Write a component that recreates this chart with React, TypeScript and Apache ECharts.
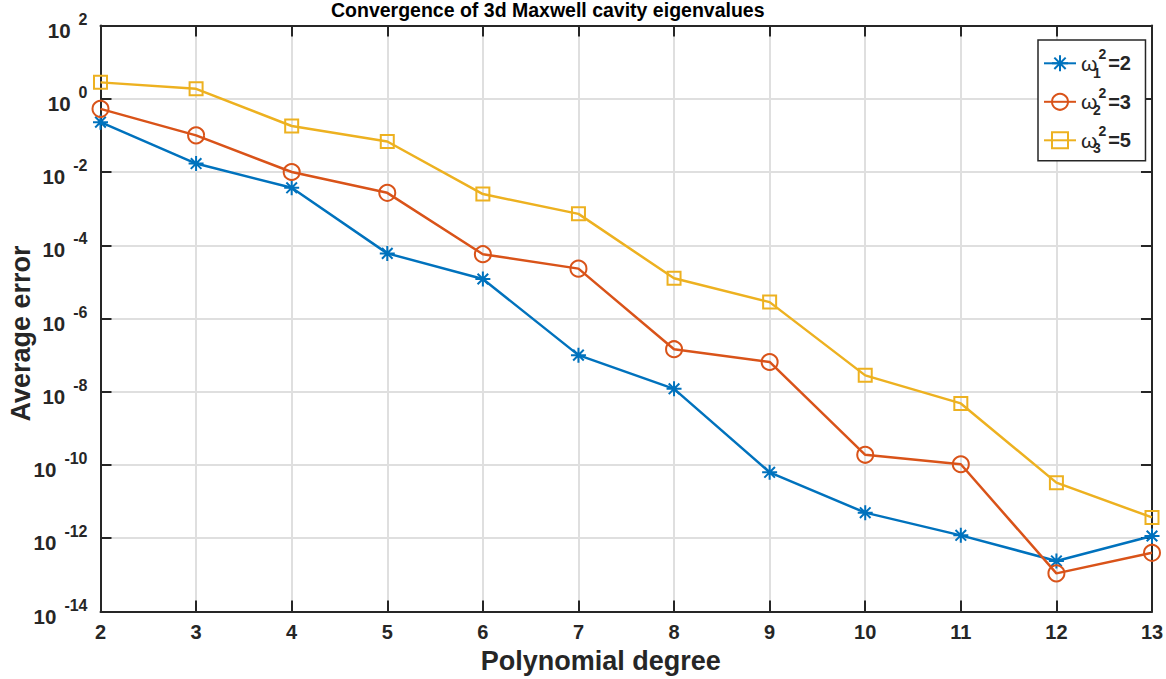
import React, { useEffect, useRef } from 'react';
import * as echarts from 'echarts';

const degrees = [2, 3, 4, 5, 6, 7, 8, 9, 10, 11, 12, 13];
const omega1Errors = [0.23, 0.017, 0.0037, 6e-5, 1.2e-5, 1e-7, 1.2e-8, 6.3e-11, 5e-12, 1.2e-12, 2.4e-13, 1.15e-12];
const omega2Errors = [0.53, 0.1, 0.01, 0.0027, 5.7e-5, 2.3e-5, 1.45e-7, 6.5e-8, 1.9e-10, 1.05e-10, 1.1e-13, 4e-13];
const omega3Errors = [2.8, 1.87, 0.18, 0.068, 0.0025, 7.2e-4, 1.25e-5, 2.8e-6, 2.8e-8, 4.8e-9, 3.3e-11, 3.7e-12];

const seriesNames = ['ω₁²=2', 'ω₂²=3', 'ω₃²=5'];
const eigenvalues = ['2', '3', '5'];
const modeIndex = ['1', '2', '3'];
const colors = ['#0072BD', '#D95319', '#EDB120'];
const symbols = [
  'path://M0,-10L0,10M-10,0L10,0M-7.07,-7.07L7.07,7.07M-7.07,7.07L7.07,-7.07',
  'circle',
  'rect',
];
const symbolSizes = [15, 16, 13];

const titleText = 'Convergence of 3d Maxwell cavity eigenvalues';
const xName = 'Polynomial degree';
const yName = 'Average error';

const FONT = '"Liberation Sans", Arial, Helvetica, sans-serif';
const INK = '#262626';
const GRID = '#DFDFDF';

export default function App() {
  const ref = useRef<HTMLDivElement>(null);

  useEffect(() => {
    if (!ref.current) return;
    const chart = echarts.init(ref.current, null, { renderer: 'svg' });
    const allData = [omega1Errors, omega2Errors, omega3Errors];

    const series = allData.map((vals, i) => ({
      type: 'line',
      name: seriesNames[i],
      data: degrees.map((d, j) => [d, vals[j]]),
      symbol: symbols[i],
      symbolSize: symbolSizes[i],
      showSymbol: true,
      lineStyle: { color: colors[i], width: 2.5 },
      itemStyle: { color: 'rgba(0,0,0,0)', borderColor: colors[i], borderWidth: 2 },
      emphasis: { disabled: true },
      z: 3 + i,
    }));

    const tickLen = 11;

    chart.setOption({
      animation: false,
      backgroundColor: '#ffffff',
      textStyle: { fontFamily: FONT },
      title: {
        text: titleText,
        left: 331,
        top: 0,
        padding: 0,
        textStyle: { fontFamily: FONT, fontSize: 19.5, fontWeight: 'bold', color: '#000', lineHeight: 20 },
      },
      grid: {
        left: 100.5,
        top: 25.5,
        right: 14,
        bottom: 67.5,
        containLabel: false,
        outerBoundsMode: 'none',
      },
      legend: {
        data: seriesNames,
        orient: 'vertical',
        left: 1038,
        top: 40,
        padding: [7.3, 14.5, 5.4, 5],
        itemWidth: 32,
        itemHeight: 20,
        itemGap: 7.5,
        itemTextGap: 3,
        borderColor: INK,
        borderWidth: 1.5,
        borderRadius: 0,
        backgroundColor: '#ffffff',
        selectedMode: false,
        formatter: (name: string) => {
          const i = seriesNames.indexOf(name);
          return `{w|ω}{s|2}{eq|=${eigenvalues[i]}}`;
        },
        textStyle: {
          color: INK,
          fontFamily: FONT,
          rich: {
            w: { fontSize: 21, fontFamily: FONT, color: INK, height: 20, lineHeight: 30, verticalAlign: 'bottom', padding: [0, 1, 5, 0] },
            s: { fontSize: 14, fontWeight: 'bold', fontFamily: FONT, color: INK, height: 12, verticalAlign: 'top', padding: [0, 0, 0, 0] },
            eq: { fontSize: 20, fontWeight: 'bold', fontFamily: FONT, color: INK, height: 20, lineHeight: 30, verticalAlign: 'bottom', padding: [0, 0, 5, 2] },
          },
        },
      },
      graphic: modeIndex.map((t, i) => ({
        type: 'text',
        x: 1097,
        y: 72.5 + 37.5 * i,
        z: 100,
        style: {
          text: t,
          fontFamily: FONT,
          fontSize: 14,
          fontWeight: 'bold',
          fill: INK,
          align: 'center',
          verticalAlign: 'middle',
          textAlign: 'center',
          textVerticalAlign: 'middle',
        },
      })),
      xAxis: [
        {
          type: 'value',
          min: 2,
          max: 13,
          interval: 1,
          position: 'bottom',
          name: xName,
          nameLocation: 'middle',
          nameGap: 36,
          nameMoveOverlap: false,
          nameTextStyle: { fontFamily: FONT, fontSize: 27, fontWeight: 'bold', color: INK, lineHeight: 27, padding: [0, 51, 0, 0] },
          axisLine: { show: true, onZero: false, lineStyle: { color: INK, width: 2 } },
          axisTick: { show: true, inside: true, length: tickLen, lineStyle: { color: INK, width: 2 } },
          axisLabel: { show: true, margin: 10, fontFamily: FONT, fontSize: 20, fontWeight: 'bold', color: INK, lineHeight: 20 },
          splitLine: { show: true, lineStyle: { color: GRID, width: 2 } },
        },
        {
          type: 'value',
          min: 2,
          max: 13,
          interval: 1,
          position: 'top',
          axisLine: { show: true, onZero: false, lineStyle: { color: INK, width: 2 } },
          axisTick: { show: true, inside: true, length: tickLen, lineStyle: { color: INK, width: 2 } },
          axisLabel: { show: false },
          splitLine: { show: false },
        },
      ],
      yAxis: [
        {
          type: 'log',
          logBase: 10,
          min: 1e-14,
          max: 1e2,
          interval: 2,
          position: 'left',
          name: yName,
          nameLocation: 'middle',
          nameGap: 66,
          nameMoveOverlap: false,
          nameRotate: 90,
          nameTextStyle: { fontFamily: FONT, fontSize: 27, fontWeight: 'bold', color: INK, lineHeight: 27, padding: [0, 30, 0, 0] },
          axisLine: { show: true, onZero: false, lineStyle: { color: INK, width: 2 } },
          axisTick: { show: true, inside: true, length: tickLen, lineStyle: { color: INK, width: 2 } },
          minorTick: { show: false },
          axisLabel: {
            show: true,
            margin: 13,
            formatter: (v: number) => {
              const e = Math.round(Math.log10(v));
              return `{b|10}{e|${e}}`;
            },
            rich: {
              b: { fontFamily: FONT, fontSize: 20.5, fontWeight: 'bold', color: INK, height: 20, lineHeight: 29, verticalAlign: 'bottom' },
              e: { fontFamily: FONT, fontSize: 16, fontWeight: 'bold', color: INK, height: 14, verticalAlign: 'top', padding: [1, 0, 0, 8] },
            },
          },
          splitLine: { show: true, lineStyle: { color: GRID, width: 2 } },
        },
        {
          type: 'log',
          logBase: 10,
          min: 1e-14,
          max: 1e2,
          interval: 2,
          position: 'right',
          axisLine: { show: true, onZero: false, lineStyle: { color: INK, width: 2 } },
          axisTick: { show: true, inside: true, length: tickLen, lineStyle: { color: INK, width: 2 } },
          axisLabel: { show: false },
          splitLine: { show: false },
        },
      ],
      series,
    });

    return () => {
      chart.dispose();
    };
  }, []);

  return (
    <div
      ref={ref}
      style={{ position: 'fixed', left: 0, top: 0, width: 1166, height: 679, background: '#fff' }}
    />
  );
}
